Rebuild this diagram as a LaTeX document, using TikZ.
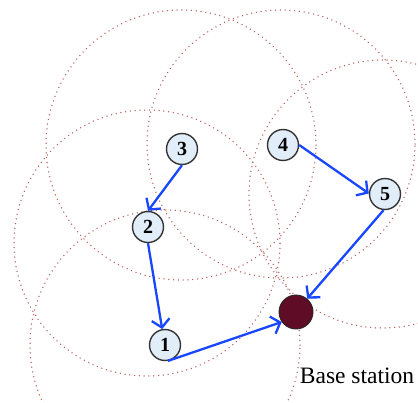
\documentclass[tikz,border=0pt]{standalone}
\usepackage{fontspec}
\setmainfont{Liberation Serif}
\usetikzlibrary{arrows.meta}
\definecolor{rangec}{RGB}{185,95,95}
\definecolor{arrowc}{RGB}{25,70,255}
\definecolor{nodefill}{RGB}{226,237,250}
\definecolor{bsfill}{RGB}{95,12,38}
\begin{document}
\begin{tikzpicture}[x=1pt,y=-1pt,
  radiorange/.style={draw=rangec, line width=1.5pt, dash pattern=on 0pt off 4.8pt, line cap=round},
  sensor/.style={circle, draw=black!80, line width=1.4pt, fill=nodefill, minimum size=31pt, inner sep=0pt, font=\fontsize{20}{20}\selectfont\bfseries},
  sink/.style={circle, draw=black!85, line width=0.9pt, fill=bsfill, minimum size=34pt, inner sep=0pt},
  link/.style={draw=arrowc, line width=2.3pt, -{Straight Barb[length=8pt,width=18pt]}}]
\useasboundingbox (0,0) rectangle (418,402);
\begin{scope}
\clip (0,0) rectangle (418,402);
\draw[radiorange] (181,145) circle[radius=135pt];
\draw[radiorange] (281,144) circle[radius=134pt];
\draw[radiorange] (147,243) circle[radius=133pt];
\draw[radiorange] (383,194) circle[radius=134pt];
\draw[radiorange] (165,345) circle[radius=135pt];
\end{scope}
\node[sensor] (n3) at (182,149) {3};
\node[sensor] (n2) at (148,227) {2};
\node[sensor] (n4) at (283,145) {4};
\node[sensor] (n5) at (385,194) {5};
\node[sensor] (n1) at (165,345) {1};
\node[sink] (bs) at (296,312) {};
\node[font=\fontsize{23.5}{23.5}\selectfont, anchor=base] (lbl) at (357,383) {Base station};
\draw[link] (n3.south) -- (n2.north);
\draw[link] (n2.south) -- (n1.100);
\draw[link] (n1.-80) -- (bs.215);
\draw[link] (n4.east) -- (n5.178);
\draw[link] (n5.-95) -- (bs.50);
\end{tikzpicture}
\end{document}
